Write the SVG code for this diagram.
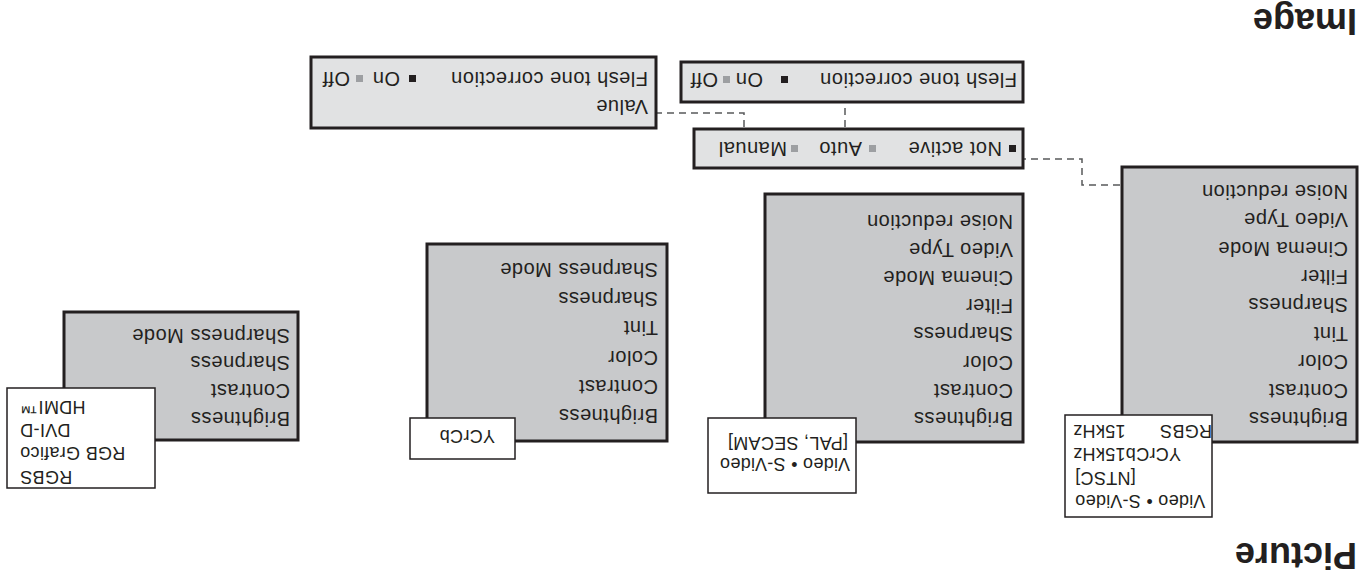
<svg xmlns="http://www.w3.org/2000/svg" width="1360" height="579" viewBox="0 0 1360 579">
<style>
.menu{fill:#c8c9cb;stroke:#231f20;stroke-width:3}
.opt{fill:#e1e2e3;stroke:#231f20;stroke-width:3}
.src{fill:#fff;stroke:#231f20;stroke-width:1.5}
text{font-family:"Liberation Sans",Arial,sans-serif;fill:#231f20}
.t{font-size:20px;letter-spacing:0.5px}
.s{font-size:18px;letter-spacing:0.3px}
.h{font-size:36px;font-weight:bold}
.conn{fill:none;stroke:#58595b;stroke-width:1.5;stroke-dasharray:7 5}
.bk{fill:#231f20}
.gy{fill:#9d9fa2}
</style>
<g transform="rotate(180 680 289.5)">
<g id="title-picture"><text class="h" x="3" y="36">Picture</text></g>
<g id="title-image"><text class="h" x="3" y="570">Image</text></g>

<g id="connectors">
<path class="conn" d="M240 394 H278 V420 H336"/>
<path class="conn" d="M515 452 V476"/>
<path class="conn" d="M616 452 V466 H703"/>
</g>

<g id="menu1">
<rect class="menu" x="3" y="137" width="235" height="275"/>
<text class="t" x="12" y="167">Brightness</text>
<text class="t" x="12" y="195.4">Contrast</text>
<text class="t" x="12" y="223.8">Color</text>
<text class="t" x="12" y="252.2">Tint</text>
<text class="t" x="12" y="280.6">Sharpness</text>
<text class="t" x="12" y="309">Filter</text>
<text class="t" x="12" y="337.4">Cinema Mode</text>
<text class="t" x="12" y="365.8">Video Type</text>
<text class="t" x="12" y="394.2">Noise reduction</text>
</g>
<g id="src1">
<rect class="src" x="148" y="62" width="147" height="102"/>
<text class="s" x="285" y="84" text-anchor="end">Video • S-Video</text>
<text class="s" x="285" y="107" text-anchor="end">[NTSC]</text>
<text class="s" x="287" y="131" text-anchor="end">YCrCb15kHz</text>
<text class="s" x="148" y="154">RGBS</text>
<text class="s" x="287" y="154" text-anchor="end">15kHz</text>
</g>

<g id="menu2">
<rect class="menu" x="337" y="137" width="258" height="248"/>
<text class="t" x="347" y="167">Brightness</text>
<text class="t" x="347" y="195.2">Contrast</text>
<text class="t" x="347" y="223.4">Color</text>
<text class="t" x="347" y="251.6">Sharpness</text>
<text class="t" x="347" y="279.8">Filter</text>
<text class="t" x="347" y="308">Cinema Mode</text>
<text class="t" x="347" y="336.2">Video Type</text>
<text class="t" x="347" y="364.4">Noise reduction</text>
</g>
<g id="src2">
<rect class="src" x="504" y="86" width="148" height="75"/>
<text class="s" x="510" y="121">Video • S-Video</text>
<text class="s" x="512" y="142">[PAL, SECAM]</text>
</g>

<g id="menu3">
<rect class="menu" x="693" y="138" width="240" height="197"/>
<text class="t" x="702" y="170">Brightness</text>
<text class="t" x="702" y="199.2">Contrast</text>
<text class="t" x="702" y="228.4">Color</text>
<text class="t" x="702" y="257.6">Tint</text>
<text class="t" x="702" y="286.8">Sharpness</text>
<text class="t" x="702" y="316">Sharpness Mode</text>
</g>
<g id="src3">
<rect class="src" x="845" y="120" width="105" height="41"/>
<text class="s" x="865" y="149">YCrCb</text>
</g>

<g id="menu4">
<rect class="menu" x="1062" y="139" width="234" height="128"/>
<text class="t" x="1070" y="167">Brightness</text>
<text class="t" x="1070" y="194.8">Contrast</text>
<text class="t" x="1070" y="222.6">Sharpness</text>
<text class="t" x="1070" y="250.4">Sharpness Mode</text>
</g>
<g id="src4">
<rect class="src" x="1205" y="91" width="148" height="100"/>
<text class="s" x="1340" y="108" text-anchor="end">RGBS</text>
<text class="s" x="1340" y="132" text-anchor="end">RGB Grafico</text>
<text class="s" x="1340" y="155" text-anchor="end">DVI-D</text>
<text class="s" x="1340" y="178" text-anchor="end">HDMI™</text>
</g>

<g id="mode-box">
<rect class="opt" x="337" y="411" width="329" height="39"/>
<rect class="bk" x="344" y="427" width="7" height="7"/>
<text class="t" x="358" y="437">Not active</text>
<rect class="gy" x="484" y="427" width="7" height="7"/>
<text class="t" x="498" y="437">Auto</text>
<rect class="gy" x="562" y="427" width="7" height="7"/>
<text class="t" x="573" y="437">Manual</text>
</g>

<g id="flesh-auto">
<rect class="opt" x="337" y="477" width="342" height="40"/>
<text class="t" x="343" y="506">Flesh tone correction</text>
<rect class="bk" x="572" y="496" width="7" height="7"/>
<text class="t" x="597" y="506">On</text>
<rect class="gy" x="630" y="496" width="7" height="7"/>
<text class="t" x="642" y="506">Off</text>
</g>

<g id="manual-box">
<rect class="opt" x="704" y="451" width="345" height="71"/>
<text class="t" x="712" y="479">Value</text>
<text class="t" x="712" y="507">Flesh tone correction</text>
<rect class="bk" x="944" y="497" width="7" height="7"/>
<text class="t" x="960" y="507">On</text>
<rect class="gy" x="997" y="497" width="7" height="7"/>
<text class="t" x="1010" y="507">Off</text>
</g>
</g>
</svg>
